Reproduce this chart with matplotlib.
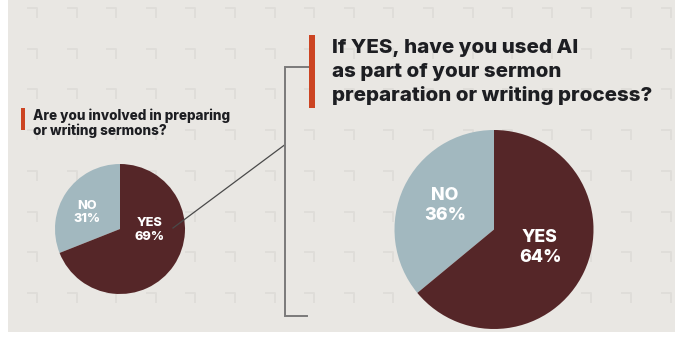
import matplotlib
matplotlib.use("Agg")
import matplotlib.pyplot as plt

# Survey answers
answers = ["NO", "YES"]
involved_pct = [31, 69]      # Are you involved in preparing or writing sermons?
used_ai_pct = [36, 64]       # If YES, have you used AI ...?

small_title = ["Are you involved in preparing", "or writing sermons?"]
big_title = ["If YES, have you used AI", "as part of your sermon",
             "preparation or writing process?"]

# Styling
W, H = 683, 341
BG = "#e9e7e3"
MARK = "#dfddd9"
COLORS = ["#a2b8bf", "#552628"]
ACCENT = "#cc4422"
INK = "#1d1e22"
FONT = ["Inter", "DejaVu Sans"]

fig = plt.figure(figsize=(W / 100, H / 100), dpi=100)
fig.patch.set_facecolor("white")
ax = fig.add_axes([0, 0, 1, 1])


def Y(y):
    """Convert a top-down pixel row into the axes' bottom-up coordinate."""
    return H - y


def reset_view():
    ax.set_xlim(0, W)
    ax.set_ylim(0, H)
    ax.set_aspect("auto")
    ax.axis("off")


reset_view()

# Panel background
ax.add_patch(plt.Rectangle((8, Y(332)), 667, 332, color=BG, zorder=0, lw=0))

# Corner marks tiled across the panel
for j in range(8):
    yy = 8 + 40.7 * j
    for k in range(17):
        xx = 37 + 39.6 * k
        ax.plot([xx - 10, xx, xx], [Y(yy), Y(yy), Y(yy + 10)],
                color=MARK, lw=1.4, solid_capstyle="butt", zorder=1)


def draw_pie(values, cx, cy, r):
    wedges, _ = ax.pie(values, colors=COLORS, startangle=90, counterclock=True,
                       center=(cx, Y(cy)), radius=r, frame=True,
                       wedgeprops=dict(linewidth=0))
    for w in wedges:
        w.set_zorder(3)
    reset_view()
    return wedges


# Small pie
draw_pie(involved_pct, 120, 229, 65)
small_label_pos = [(87, 212.5), (149.5, 230)]
for name, v, (lx, ly) in zip(answers, involved_pct, small_label_pos):
    ax.text(lx, Y(ly), f"{name}\n{v}%", color="white", fontsize=9.2,
            fontweight="heavy", family=FONT, ha="center", va="center",
            linespacing=1.2, zorder=5)

# Large pie
draw_pie(used_ai_pct, 494, 229.5, 99.5)
big_label_pos = [(445, 205.5), (540, 247.5)]
for name, v, (lx, ly) in zip(answers, used_ai_pct, big_label_pos):
    ax.text(lx, Y(ly), f"{name}\n{v}%", color="white", fontsize=12.8,
            fontweight="heavy", family=FONT, ha="center", va="center",
            linespacing=1.2, zorder=5)

# Connector from the small pie's YES slice to the bracket
ax.plot([173, 284.5], [Y(228), Y(145)], color="#4a4a4a", lw=0.9, zorder=4)
ax.plot([309, 284.5, 284.5, 307], [Y(67), Y(67), Y(316), Y(316)],
        color="#7a7a7a", lw=1.4, zorder=4, solid_joinstyle="miter")

# Accent bars
ax.add_patch(plt.Rectangle((309, Y(108)), 6, 73, color=ACCENT, lw=0, zorder=4))
ax.add_patch(plt.Rectangle((21, Y(130)), 4, 22, color=ACCENT, lw=0, zorder=4))

# Titles
for i, line in enumerate(big_title):
    ax.text(332, Y(53 + 24 * i), line, color=INK, fontsize=14.8,
            fontweight="heavy", family=FONT, ha="left", va="baseline", zorder=5)
for i, line in enumerate(small_title):
    ax.text(33, Y(120 + 14.5 * i), line, color=INK, fontsize=9.7,
            fontweight="heavy", family=FONT, ha="left", va="baseline", zorder=5)

fig.savefig("out.png", dpi=100, facecolor="white")
